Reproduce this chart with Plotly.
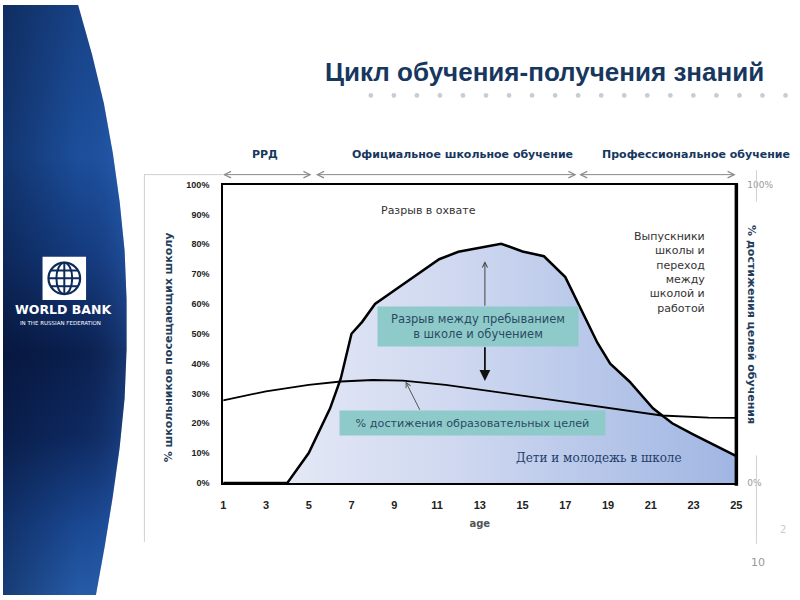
import plotly.graph_objects as go

# ---------------- data ----------------
ages_enrol = [1, 3, 4, 5, 6, 6.5, 7, 7.5, 8.1, 9.2, 10, 11.1, 12, 13, 14, 15, 16, 17,
              17.8, 18.5, 19.1, 20, 21.1, 22, 23, 24, 25]
enrol_pct = [0, 0, 0, 10, 25, 35, 50, 54, 60, 65.5, 69.5, 75, 77.5, 78.8, 80.2, 77.6, 76, 69,
             57, 47, 40, 34, 25, 20, 16.2, 12.5, 9]
ages_ach = [1, 3, 5, 6.5, 8, 9.4, 11.4, 13.7, 16, 19.1, 21.5, 23.7, 25]
ach_pct = [27.7, 30.7, 32.9, 34, 34.5, 34.3, 32.9, 30.5, 28.3, 25, 22.6, 21.9, 21.8]
x_tickvals = [1, 3, 5, 7, 9, 11, 13, 15, 17, 19, 21, 23, 25]
y_tickvals = [0, 10, 20, 30, 40, 50, 60, 70, 80, 90, 100]
y_ticktext = ["0%", "10%", "20%", "30%", "40%", "50%", "60%", "70%", "80%", "90%", "100%"]
y2_tickvals = [0, 100]
y2_ticktext = ["0%", "100%"]

# decorative left panel outline (page pixel coords)
panel_x = [0, 76, 90, 102, 111, 118, 123, 125, 125, 123, 118, 111, 103, 94, 0, 0]
panel_y = [0, 0, 50, 100, 150, 200, 250, 300, 350, 400, 450, 500, 550, 600, 600, 0]

W, H = 800, 600
def px(p):
    return p / W
def py(p):
    return 1 - p / H

NAVY = "#17375e"
TXT = "#2b4a62"

fig = go.Figure()

# left blue panel
fig.add_trace(go.Scatter(
    x=panel_x, y=panel_y, xaxis="x3", yaxis="y3", mode="lines",
    line=dict(width=0), fill="toself", hoverinfo="skip", showlegend=False,
    fillgradient=dict(type="vertical", start=0, stop=600,
                      colorscale=[[0, "#1a4890"], [0.25, "#1f56a8"], [0.42, "#163f86"],
                                  [0.58, "#0b2152"], [0.72, "#0f2c66"], [0.87, "#1d4f9e"],
                                  [1, "#2b67b8"]])))
fig.add_trace(go.Scatter(
    x=panel_x, y=panel_y, xaxis="x3", yaxis="y3", mode="lines",
    line=dict(width=0), fill="toself", hoverinfo="skip", showlegend=False,
    fillgradient=dict(type="horizontal", start=0, stop=125,
                      colorscale=[[0, "rgba(2,12,40,0.45)"], [0.6, "rgba(2,12,40,0.1)"],
                                  [1, "rgba(60,120,210,0.25)"]])))

# enrolment curve with gradient fill
fig.add_trace(go.Scatter(
    x=ages_enrol, y=enrol_pct, mode="lines", line=dict(color="black", width=2.5),
    fill="tozeroy",
    fillgradient=dict(type="horizontal", start=1, stop=25,
                      colorscale=[[0, "#eceef8"], [0.45, "#cfd8f0"], [1, "#9fb5e2"]]),
    hoverinfo="skip", showlegend=False))

# achievement line (right axis)
fig.add_trace(go.Scatter(
    x=ages_ach, y=ach_pct, mode="lines", yaxis="y2", line=dict(color="black", width=1.8),
    hoverinfo="skip", showlegend=False))

xd = [px(222.7), px(741.7)]
yd = [py(486), py(182.7)]

fig.update_layout(
    width=W, height=H, autosize=False,
    margin=dict(l=0, r=0, t=0, b=0, pad=0),
    paper_bgcolor="white", plot_bgcolor="white",
    xaxis=dict(domain=xd, range=[1, 25], tickvals=x_tickvals, showgrid=False, zeroline=False,
               showline=True, mirror=True, linecolor="black", linewidth=2, ticks="",
               ticklabelstandoff=11,
               tickfont=dict(family="Liberation Sans", size=11, color="#222", weight="bold"),
               title=dict(text="age", standoff=10,
                          font=dict(family="DejaVu Sans", size=10, color="#555", weight="bold"))),
    yaxis=dict(domain=yd, range=[0, 100], tickvals=y_tickvals, ticktext=y_ticktext,
               showgrid=False, zeroline=False, showline=True, mirror=True, linecolor="black",
               linewidth=2, ticks="", ticklabelstandoff=10,
               tickfont=dict(family="Liberation Sans", size=9, color="#222", weight="bold")),
    yaxis2=dict(overlaying="y", side="right", anchor="x", range=[0, 100],
                tickvals=y2_tickvals, ticktext=y2_ticktext, showgrid=False, zeroline=False,
                showline=False, ticks="", ticklabelstandoff=10,
                tickfont=dict(family="DejaVu Sans", size=9, color="#999")),
    xaxis3=dict(domain=[0, 0.2], range=[0, 160], visible=False, fixedrange=True),
    yaxis3=dict(domain=[0, 1], range=[600, 0], visible=False, fixedrange=True, anchor="x3"),
)

shapes = []
# gray frame lines
shapes.append(dict(type="line", xref="paper", yref="paper", x0=px(143), x1=px(143),
                   y0=py(172), y1=py(546), line=dict(color="#cfcfcf", width=1)))
shapes.append(dict(type="line", xref="paper", yref="paper", x0=px(143), x1=px(222),
                   y0=py(172.5), y1=py(172.5), line=dict(color="#cfcfcf", width=1)))
shapes.append(dict(type="line", xref="paper", yref="paper", x0=px(762), x1=px(762),
                   y0=py(168), y1=py(200), line=dict(color="#cfcfcf", width=1)))
shapes.append(dict(type="line", xref="paper", yref="paper", x0=px(762), x1=px(762),
                   y0=py(458), y1=py(548), line=dict(color="#cfcfcf", width=1)))
# thick right axis line
shapes.append(dict(type="line", xref="paper", yref="paper", x0=px(741.7), x1=px(741.7),
                   y0=py(489), y1=py(181.5), line=dict(color="black", width=3.5)))
# dotted separator under title
for i in range(19):
    cx = 372 + i * 23.3
    shapes.append(dict(type="circle", xref="paper", yref="paper",
                       x0=px(cx - 2.4), x1=px(cx + 2.4), y0=py(92 + 2.4), y1=py(92 - 2.4),
                       fillcolor="#c9ccd3", line=dict(width=0)))
# world bank logo
shapes.append(dict(type="rect", xref="paper", yref="paper", x0=px(40), x1=px(84),
                   y0=py(300), y1=py(256), fillcolor="white", line=dict(width=0)))
gx, gy, gr = 62, 278, 16
shapes.append(dict(type="circle", xref="paper", yref="paper", x0=px(gx - gr), x1=px(gx + gr),
                   y0=py(gy + gr), y1=py(gy - gr), line=dict(color="#0d2b5c", width=2.2)))
shapes.append(dict(type="circle", xref="paper", yref="paper", x0=px(gx - 8), x1=px(gx + 8),
                   y0=py(gy + gr), y1=py(gy - gr), line=dict(color="#0d2b5c", width=2)))
shapes.append(dict(type="line", xref="paper", yref="paper", x0=px(gx), x1=px(gx),
                   y0=py(gy + gr), y1=py(gy - gr), line=dict(color="#0d2b5c", width=2)))
for dy, half in [(-8, 13.5), (0, 16), (8, 13.5)]:
    shapes.append(dict(type="line", xref="paper", yref="paper", x0=px(gx - half), x1=px(gx + half),
                       y0=py(gy + dy), y1=py(gy + dy), line=dict(color="#0d2b5c", width=2)))
fig.update_layout(shapes=shapes)

ann = []
def text(x, y, t, size=11, color=TXT, family="DejaVu Sans", bold=False, **kw):
    d = dict(x=x, y=y, xref="paper", yref="paper", text=t, showarrow=False,
             xanchor="center", yanchor="middle",
             font=dict(family=family, size=size, color=color, weight="bold" if bold else "normal"))
    d.update(kw)
    ann.append(d)

# title
text(px(548), py(68), "Цикл обучения-получения знаний", size=26, color=NAVY,
     family="Liberation Sans", bold=True)
# header labels
text(px(265), py(152), "РРД", size=11, color=NAVY, bold=True)
text(px(465), py(152), "Официальное школьное обучение", size=11, color=NAVY, bold=True)
text(px(798), py(152), "Профессиональное обучение", size=11, color=NAVY, bold=True,
     xanchor="right")
# bracket arrows
for x0, x1 in [(222, 312), (318, 580), (583, 741)]:
    ann.append(dict(x=px(x1), y=py(172.5), xref="paper", yref="paper", text="",
                    showarrow=True, ax=-(x1 - x0), ay=0, axref="pixel", ayref="pixel",
                    arrowside="end+start", arrowhead=5, startarrowhead=5, arrowsize=1.3,
                    startarrowsize=1.3, arrowwidth=1, arrowcolor="#8a8a8a",
                    standoff=0, startstandoff=0))
# axis titles
text(px(167), py(348), "% школьников посещающих школу", size=11, color="#1f3d5a",
     bold=True, textangle=-90)
text(px(757), py(325), "% достижения целей обучения", size=11, color="#1f3d5a",
     bold=True, textangle=90)
# in-plot texts
text(px(430), py(209), "Разрыв в охвате", size=11, color="#333")
text(px(712), py(272), "Выпускники<br>школы и<br>переход<br>между<br>школой и<br>работой",
     size=11, color="#333", align="right", xanchor="right")
text(px(603), py(461), "Дети и молодежь в школе", size=12, color="#1f3d6a",
     family="DejaVu Serif")
# teal boxes
ann.append(dict(x=12.91, y=52.5, xref="x", yref="y", text="Разрыв между пребыванием<br>в школе и обучением",
                showarrow=False, bgcolor="#8ecaca", width=200, height=39, borderpad=0,
                xanchor="center", yanchor="middle",
                font=dict(family="DejaVu Sans", size=11.5, color=TXT)))
ann.append(dict(x=12.66, y=20.1, xref="x", yref="y", text="% достижения образовательных целей",
                showarrow=False, bgcolor="#8ecaca", width=265, height=24, borderpad=0,
                xanchor="center", yanchor="middle",
                font=dict(family="DejaVu Sans", size=11.2, color=TXT)))
# arrows
ann.append(dict(x=13.24, y=74.3, ax=13.24, ay=58.9, xref="x", yref="y", axref="x", ayref="y",
                text="", showarrow=True, arrowhead=5, arrowsize=1, arrowwidth=1,
                arrowcolor="#444", standoff=0, startstandoff=0))
ann.append(dict(x=13.24, y=34.2, ax=13.24, ay=46.0, xref="x", yref="y", axref="x", ayref="y",
                text="", showarrow=True, arrowhead=2, arrowsize=1.2, arrowwidth=1.8,
                arrowcolor="#111", standoff=0, startstandoff=0))
ann.append(dict(x=9.53, y=34.0, ax=10.23, ay=24.0, xref="x", yref="y", axref="x", ayref="y",
                text="", showarrow=True, arrowhead=5, arrowsize=1, arrowwidth=1,
                arrowcolor="#555", standoff=0, startstandoff=0))
# logo texts
text(px(61), py(310), "WORLD BANK", size=12.5, color="white", family="DejaVu Sans", bold=True)
text(px(58), py(323), "IN THE RUSSIAN FEDERATION", size=5.5, color="white", family="DejaVu Sans")
# page number
text(px(764), py(567), "10", size=11, color="#999")
text(px(789), py(533), "2", size=10, color="#ccc")

fig.update_layout(annotations=ann)
fig.write_html("out.html")
